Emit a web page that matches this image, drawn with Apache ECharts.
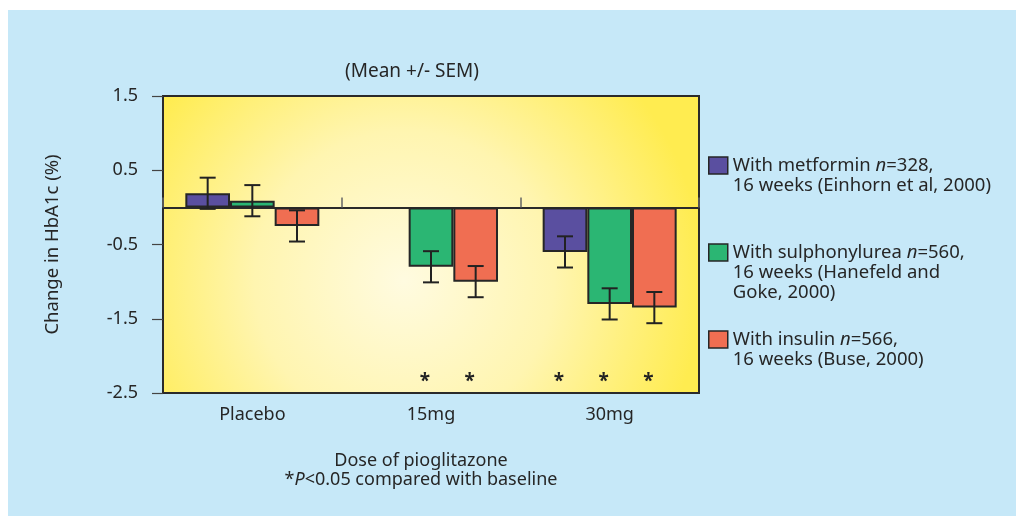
<!DOCTYPE html>
<html><head><meta charset="utf-8">
<script src="https://cdn.jsdelivr.net/npm/echarts@6/dist/echarts.min.js"></script>
<style>
html,body{margin:0;padding:0;background:#fff;}
#wrap{position:relative;width:1016px;height:520px;overflow:hidden;}
#panel{position:absolute;left:8px;top:10px;width:1008px;height:506px;background:#c6e8f8;}
#chart{position:absolute;left:0;top:0;width:1016px;height:520px;}
</style></head>
<body><div id="wrap"><div id="panel"></div><div id="chart"></div></div>
<script>
// ---- data ----
const categories = ['Placebo', '15mg', '30mg'];
const yTicks = [-2.5, -1.5, -0.5, 0.5, 1.5];
const seriesNames = ['Metformin', 'Sulphonylurea', 'Insulin'];
const metformin = [0.19, null, -0.60];
const sulphonylurea = [0.09, -0.80, -1.30];
const insulin = [-0.25, -1.00, -1.35];
const metforminSem = [0.21, null, 0.21];
const sulphonylureaSem = [0.21, 0.21, 0.21];
const insulinSem = [0.21, 0.21, 0.21];
const metforminSig = [false, null, true];
const sulphonylureaSig = [false, true, true];
const insulinSig = [false, true, true];
const legendLines = {
  'Metformin': '{a| }\n{a|With metformin }{i|n}{a|=328,}\n{a|16 weeks (Einhorn et al, 2000)}',
  'Sulphonylurea': '{a| }\n{a| }\n{a|With sulphonylurea }{i|n}{a|=560,}\n{a|16 weeks (Hanefeld and}\n{a|Goke, 2000)}',
  'Insulin': '{a| }\n{a|With insulin }{i|n}{a|=566,}\n{a|16 weeks (Buse, 2000)}'
};
const colors = ['#5a4fa0', '#2bb673', '#f06e52'];

const FONT = 'Noto Sans';
const TXT = '#262626';

const chart = echarts.init(document.getElementById('chart'), null, {renderer: 'canvas'});

function errData(vals, sems, sigs) {
  const out = [];
  vals.forEach((v, i) => { if (v !== null) out.push([i, v, sems[i], sigs[i] ? 1 : 0]); });
  return out;
}
function makeErr(offset) {
  return function (params, api) {
    const cat = api.value(0), v = api.value(1), e = api.value(2), sig = api.value(3);
    const cw = api.size([1, 0])[0];
    const x = api.coord([cat, 0])[0] + offset * cw;
    const yHi = api.coord([cat, v + e])[1];
    const yLo = api.coord([cat, v - e])[1];
    const half = 8;
    const style = {stroke: '#222', lineWidth: 2};
    const children = [
      {type: 'line', shape: {x1: x, y1: yHi, x2: x, y2: yLo}, style},
      {type: 'line', shape: {x1: x - half, y1: yHi, x2: x + half, y2: yHi}, style},
      {type: 'line', shape: {x1: x - half, y1: yLo, x2: x + half, y2: yLo}, style}
    ];
    if (sig) {
      const ys = api.coord([cat, -2.31])[1];
      children.push({type: 'text', style: {text: '*', x: x - 6, y: ys + 3, align: 'center', verticalAlign: 'middle',
        fontSize: 19, fontWeight: 'bold', fontFamily: FONT, fill: '#222'}});
    }
    return {type: 'group', children};
  };
}

const barBase = {type: 'bar', xAxisIndex: 0, barGap: '0%', barCategoryGap: '25%',
  itemStyle: {borderColor: '#262626', borderWidth: 2}};

chart.setOption({
  animation: false,
  color: colors,
  textStyle: {fontFamily: FONT},
  title: [
    {text: '(Mean +/- SEM)', left: 407, top: 57, textAlign: 'center',
      textStyle: {fontFamily: FONT, fontSize: 19, fontWeight: 'normal', color: TXT}},
    {text: '{a|Dose of pioglitazone}\n{a|*}{i|P}{a|<0.05 compared with baseline}', left: 416, top: 446, textAlign: 'center',
      textStyle: {rich: {
        a: {fontFamily: FONT, fontSize: 18, lineHeight: 19, color: TXT, fontWeight: 'normal'},
        i: {fontFamily: FONT, fontSize: 18, lineHeight: 19, color: TXT, fontStyle: 'italic', fontWeight: 'normal'}
      }}}
  ],
  legend: {
    orient: 'vertical', left: 703, top: 131, itemWidth: 19, itemHeight: 17, itemGap: 8,
    icon: 'rect', data: seriesNames, selectedMode: false,
    itemStyle: {borderColor: '#262626', borderWidth: 1.5},
    formatter: n => legendLines[n],
    textStyle: {rich: {
      a: {fontFamily: FONT, fontSize: 18.5, lineHeight: 20, color: TXT},
      i: {fontFamily: FONT, fontSize: 18.5, lineHeight: 20, color: TXT, fontStyle: 'italic'}
    }}
  },
  grid: {left: 163, right: 317, top: 96, bottom: 127, show: true,
    borderColor: '#2a2a2a', borderWidth: 2,
    backgroundColor: {type: 'radial', x: 0.45, y: 0.62, r: 1.0,
      colorStops: [{offset: 0, color: '#fffbe0'}, {offset: 0.5, color: '#fff5b0'}, {offset: 1, color: '#ffec50'}]}},
  xAxis: [
    {type: 'category', data: categories, position: 'bottom',
      axisLine: {show: false, onZero: false}, axisTick: {show: false},
      axisLabel: {margin: 13, fontFamily: FONT, fontSize: 18, color: TXT}},
    {type: 'category', data: categories, position: 'top',
      axisLine: {show: true, onZero: true, lineStyle: {color: '#2a2a2a', width: 2}},
      axisTick: {show: true, length: 10, lineStyle: {color: '#666', width: 1.5}},
      axisLabel: {show: false}}
  ],
  yAxis: {type: 'value', min: -2.5, max: 1.5,
    name: 'Change in HbA1c (%)', nameLocation: 'middle', nameGap: 101, nameRotate: 90,
    nameTextStyle: {fontFamily: FONT, fontSize: 18.5, color: TXT},
    axisLine: {show: false}, splitLine: {show: false},
    axisTick: {show: true, length: 11, customValues: yTicks, lineStyle: {color: '#444', width: 1.2}},
    axisLabel: {customValues: yTicks, margin: 25, fontFamily: FONT, fontSize: 18, color: TXT}
  },
  series: [
    Object.assign({}, barBase, {name: seriesNames[0], data: metformin}),
    Object.assign({}, barBase, {name: seriesNames[1], data: sulphonylurea}),
    Object.assign({}, barBase, {name: seriesNames[2], data: insulin}),
    {type: 'custom', name: 'errM', xAxisIndex: 0, renderItem: makeErr(-0.25), data: errData(metformin, metforminSem, metforminSig), z: 5},
    {type: 'custom', name: 'errS', xAxisIndex: 0, renderItem: makeErr(0), data: errData(sulphonylurea, sulphonylureaSem, sulphonylureaSig), z: 5},
    {type: 'custom', name: 'errI', xAxisIndex: 0, renderItem: makeErr(0.25), data: errData(insulin, insulinSem, insulinSig), z: 5}
  ]
});
</script></body></html>
